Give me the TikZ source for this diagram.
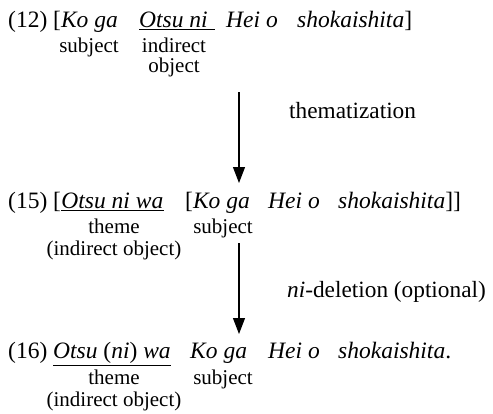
\documentclass[tikz,border=0pt]{standalone}
\usepackage{fontspec}
\setmainfont{Liberation Serif}
\usetikzlibrary{arrows.meta}
\begin{document}
\begin{tikzpicture}[x=1pt,y=-1pt,
  word/.style={anchor=base west,inner sep=0pt,font=\fontsize{23.5}{26}\selectfont},
  gloss/.style={anchor=base,inner sep=0pt,font=\fontsize{21}{21}\selectfont},
  rulelabel/.style={anchor=base west,inner sep=0pt,font=\fontsize{23.3}{24}\selectfont},
  uline/.style={line width=1.2pt},
  derive/.style={line width=1.1pt,-{Triangle[length=16pt,width=12pt]}}]
\useasboundingbox (0,0) rectangle (493,413);

% (12) basic sentence
\node[word] (k12) at (8,27) {(12) [\textit{Ko ga}};
\node[word] (o12) at (139,27) {\textit{Otsu ni}};
\node[word] (h12) at (226,27) {\textit{Hei o}};
\node[word] (s12) at (297,27) {\textit{shokaishita}]};
\draw[uline] ([yshift=-2.5pt]o12.base west) -- ([xshift=7pt,yshift=-2.5pt]o12.base east);
\node[gloss] (g12a) at (89,52) {subject};
\node[gloss] (g12b) at (174,52) {indirect};
\node[gloss] (g12c) at (174,72) {object};

% thematization
\coordinate (t1) at (239,92);
\coordinate (t2) at (239,183);
\draw[derive] (t1) -- (t2);
\node[rulelabel] (lab1) at (289,118) {thematization};

% (15) thematized sentence
\node[word] (n15) at (8,208) {(15) [};
\node[word] (o15) at (n15.base east) {\textit{Otsu ni wa}};
\node[word] (k15) at (185,208) {[\textit{Ko ga}};
\node[word] (h15) at (268,208) {\textit{Hei o}};
\node[word] (s15) at (338,208) {\textit{shokaishita}]]};
\draw[uline] ([yshift=-2.5pt]o15.base west) -- ([yshift=-2.5pt]o15.base east);
\node[gloss] (g15a) at (114,233) {theme};
\node[gloss] (g15b) at (223,233) {subject};
\node[gloss] (g15c) at (114,255) {(indirect object)};

% ni-deletion
\coordinate (d1) at (239,243);
\coordinate (d2) at (239,334);
\draw[derive] (d1) -- (d2);
\node[rulelabel] (lab2) at (287,297) {\textit{ni}-deletion (optional)};

% (16) final sentence
\node[word] (n16) at (8,358) {(16)};
\node[word] (o16) at (53,358) {\textit{Otsu} (\textit{ni}) \textit{wa}};
\node[word] (k16) at (190,358) {\textit{Ko ga}};
\node[word] (h16) at (268,358) {\textit{Hei o}};
\node[word] (s16) at (338,358) {\textit{shokaishita}.};
\draw[uline] ([yshift=-7.5pt]o16.base west) -- ([yshift=-7.5pt]o16.base east);
\node[gloss] (g16a) at (114,384) {theme};
\node[gloss] (g16b) at (223,384) {subject};
\node[gloss] (g16c) at (114,406) {(indirect object)};
\end{tikzpicture}
\end{document}
